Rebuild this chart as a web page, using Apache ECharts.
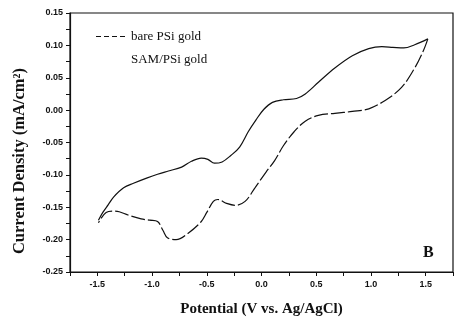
<!DOCTYPE html>
<html><head><meta charset="utf-8">
<script src="https://cdn.jsdelivr.net/npm/echarts@6/dist/echarts.min.js"></script>
<style>html,body{margin:0;padding:0;background:#fff}#c{width:462px;height:322px}</style>
</head><body><div id="c"></div>
<script>
var xTicks = [-1.5, -1.0, -0.5, 0.0, 0.5, 1.0, 1.5];
var yTicks = [-0.25, -0.20, -0.15, -0.10, -0.05, 0.00, 0.05, 0.10, 0.15];
var samV = [-1.49,-1.45,-1.40,-1.35,-1.26,-1.17,-1.05,-0.95,-0.85,-0.73,-0.64,-0.55,-0.49,-0.43,-0.36,-0.28,-0.20,-0.12,-0.05,0.02,0.10,0.20,0.32,0.40,0.52,0.67,0.83,0.98,1.10,1.20,1.30,1.40,1.52];
var samJ = [-0.170,-0.158,-0.146,-0.134,-0.120,-0.113,-0.105,-0.099,-0.094,-0.088,-0.079,-0.074,-0.076,-0.082,-0.080,-0.070,-0.057,-0.033,-0.015,0.001,0.012,0.016,0.018,0.025,0.043,0.065,0.084,0.095,0.098,0.097,0.096,0.101,0.110];
var bareV = [1.52,1.48,1.40,1.28,1.13,0.98,0.83,0.67,0.52,0.40,0.30,0.20,0.12,0.04,-0.06,-0.15,-0.24,-0.32,-0.40,-0.44,-0.50,-0.55,-0.67,-0.78,-0.86,-0.90,-0.95,-1.02,-1.10,-1.22,-1.30,-1.35,-1.42,-1.49];
var bareJ = [0.110,0.092,0.065,0.035,0.015,0.002,-0.002,-0.005,-0.008,-0.017,-0.033,-0.055,-0.078,-0.096,-0.120,-0.141,-0.147,-0.144,-0.138,-0.141,-0.158,-0.172,-0.190,-0.200,-0.197,-0.186,-0.172,-0.170,-0.168,-0.162,-0.157,-0.156,-0.158,-0.174];

function pairs(a, b) { return a.map(function (v, i) { return [v, b[i]]; }); }
var lab = {fontFamily: 'Liberation Sans', fontSize: 9, fontWeight: 'bold', color: '#111'};
var ttl = {fontFamily: 'Liberation Serif', fontSize: 15, fontWeight: 'bold', color: '#111'};
var chart = echarts.init(document.getElementById('c'));
chart.setOption({
  animation: false,
  backgroundColor: '#fff',
  grid: {left: 70, right: 9, top: 13, bottom: 41, show: true, borderColor: '#111', borderWidth: 1.2, backgroundColor: 'transparent'},
  legend: {
    orient: 'vertical', left: 90, top: 25, itemWidth: 30, itemHeight: 12, itemGap: 10,
    textStyle: {fontFamily: 'Liberation Serif', fontSize: 13, color: '#111'},
    data: [
      {name: 'bare PSi gold', itemStyle: {opacity: 0}, lineStyle: {type: [5, 3], width: 1.2, color: '#111'}},
      {name: 'SAM/PSi gold', lineStyle: {opacity: 0}, itemStyle: {opacity: 0}}
    ]
  },
  xAxis: {
    type: 'value', min: -1.75, max: 1.75, interval: 0.25,
    name: 'Potential (V vs. Ag/AgCl)', nameLocation: 'middle', nameGap: 30,
    nameTextStyle: ttl,
    axisLine: {onZero: false, lineStyle: {color: '#111', width: 1.2}},
    axisTick: {show: true, inside: false, length: 4, lineStyle: {color: '#111'}},
    axisLabel: Object.assign({margin: 8, formatter: function (v) {
      var r = Math.round(v * 100) / 100;
      return xTicks.some(function (t) { return Math.abs(t - r) < 1e-6; }) ? r.toFixed(1) : '';
    }}, lab),
    splitLine: {show: false}
  },
  yAxis: {
    type: 'value', min: -0.25, max: 0.15, interval: 0.025,
    axisLine: {onZero: false, lineStyle: {color: '#111', width: 1.2}},
    axisTick: {show: true, inside: false, length: 4, lineStyle: {color: '#111'}},
    axisLabel: Object.assign({margin: 7, formatter: function (v) {
      var r = Math.round(v * 1000) / 1000;
      return yTicks.some(function (t) { return Math.abs(t - r) < 1e-6; }) ? r.toFixed(2) : '';
    }}, lab),
    splitLine: {show: false}
  },
  series: [
    {name: 'bare PSi gold', type: 'line', data: pairs(bareV, bareJ), smooth: 0.35, symbol: 'none',
     lineStyle: {color: '#111', width: 1.2, type: [14, 3]}, itemStyle: {color: '#111'}},
    {name: 'SAM/PSi gold', type: 'line', data: pairs(samV, samJ), smooth: 0.35, symbol: 'none',
     lineStyle: {color: '#111', width: 1.2}, itemStyle: {color: '#111'}}
  ],
  graphic: [
    {type: 'text', x: 20, y: 161, rotation: Math.PI / 2,
     style: {text: 'Current Density (mA/cm\u00B2)', font: 'bold 16.5px "Liberation Serif"', fill: '#111', align: 'center', verticalAlign: 'middle'}},
    {type: 'text', left: 423, top: 245, style: {text: 'B', font: 'bold 16px "Liberation Serif"', fill: '#111'}}
  ]
});
</script></body></html>
